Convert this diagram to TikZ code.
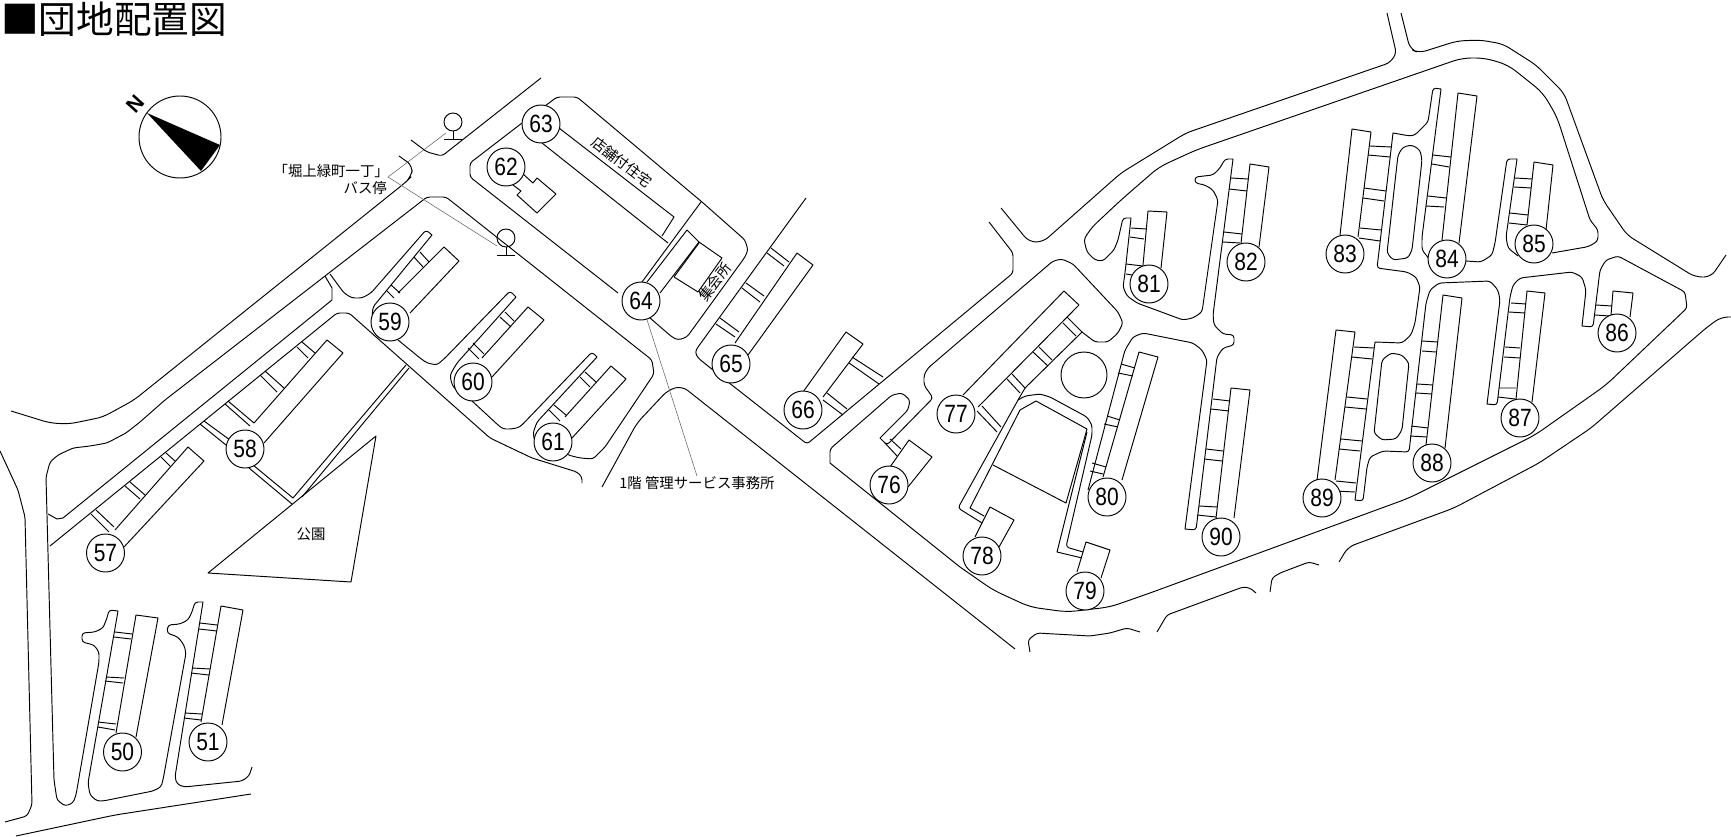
\documentclass[tikz,border=0pt]{standalone}
\usepackage{fontspec}
\setmainfont{Noto Sans CJK JP}
\newfontfamily\numf[FakeStretch=0.84]{Liberation Sans}
\newfontfamily\nbold{Liberation Sans Bold}
\tikzset{
  ln/.style={line width=0.95pt,line join=round},
  rc/.style={ln,rounded corners=3pt},
  rb/.style={ln,rounded corners=7pt},
  num/.style={circle,draw,fill=white,line width=0.95pt,minimum size=38pt,inner sep=0pt,font=\numf\fontsize{25}{25}\selectfont},
  lbl/.style={inner sep=0pt,font=\fontsize{14.4}{14.4}\selectfont},
  leader/.style={line width=0.5pt,draw=black!65},
  stopc/.style={circle,draw,line width=0.95pt,minimum size=18pt,inner sep=0pt}
}
\begin{document}
\begin{tikzpicture}[x=1pt,y=-1pt]
\useasboundingbox (0,0) rectangle (1731,837);
% title
\node[anchor=west,inner sep=0pt,font=\fontsize{37.6}{37.6}\selectfont] (title) at (1,19) {■団地配置図};
% compass
\fill (147,113)--(220,145)--(201,171)--cycle;
\node[circle,draw,line width=0.95pt,minimum size=82pt,inner sep=0pt] (comp) at (180,137) {};
\node[inner sep=0pt,rotate=48,font=\nbold\fontsize{21}{21}\selectfont] (north) at (135,104) {N};
% left-hand roads
\draw[rc] (553,442)--(568,455)--(580,458)--(593,459)--(605,447)--(654,374)--(652,360)--(446,197)--(427,197)--(165,400)--(140,422)--(126,433)--(107,443)--(90,446)--(73,448)--(58,455)--(50,462)--(46,477)--(54,780)--(57,800)--(65,806)--(73,803)--(76,795)--(99,662)--(99,652)--(94,645)--(82,642)--(82,633)--(95,632)--(103,628)--(107,618)--(109,610)[sharp corners]--(118,611)[rounded corners=3pt]--(88,783)--(90,795)--(97,801)--(103,801)--(153,791)--(161,787)--(163,780)--(186,653)--(184,645)--(178,637)--(167,633)--(168,625)--(180,624)--(188,620)--(192,612)--(195,602)[sharp corners]--(203,602)[rounded corners=3pt]--(175,777)--(177,784)--(184,787)--(242,781)--(249,776)--(252,767);
\draw[rb] (399,156)--(413,166)--(411,177)--(406,182)--(134,400)--(103,417)--(69,424)--(50,423)--(11,411);
\draw[rc] (541,78)--(442,156)--(427,152)--(411,140);
\draw[ln] (325,276)--(332,288)--(332,300)--(63,518)--(57,519)--(48,514);
\draw[rc] (50,546)--(337,313)--(349,313)--(490,438)--(532,458)--(577,472)--(582,477)--(582,483);
\draw[rc] (0,451)--(18,490)--(25,517)--(32,805)--(27,816)--(5,822);
\draw[rb] (16,836)--(115,815)--(251,794);
% 59, 60, 61 strips
\draw[rc] (330,274)--(344,293)--(352,298)--(362,298)--(371,293)--(426,230)[sharp corners]--(432,235)[rounded corners=3pt]--(373,307)--(372,316)--(376,325);
\draw[rc] (398,340)--(420,358)--(427,363)--(437,365)--(445,358)--(510,291)[sharp corners]--(516,297)[rounded corners=3pt]--(457,363)--(450,375)--(452,385)--(458,392);
\draw[rc] (458,388)--(498,425)--(503,429)--(512,429)--(520,427)--(592,352)[sharp corners]--(597,357)[rounded corners=3pt]--(537,422)--(533,433)--(535,442);
\draw[ln] (398,293)--(444,247)--(459,261)--(410,313);
\draw[ln] (482,358)--(528,307)--(544,320)--(492,377);
\draw[ln] (565,417)--(611,366)--(626,379)--(572,438);
\draw[ln] (414,257)--(423,267) (420,252)--(429,262) (386,290)--(394,298) (391,285)--(400,293);
\draw[ln] (500,317)--(511,327) (505,312)--(514,321) (468,348)--(479,359) (473,343)--(484,354);
\draw[ln] (580,377)--(590,387) (585,372)--(596,382) (549,410)--(560,421) (554,405)--(566,415);
% 57, 58 and park
\draw[ln] (254,423)--(327,340)--(343,353)--(264,443);
\draw[ln] (115,530)--(188,447)--(204,461)--(124,547);
\draw[ln] (297,347)--(308,358) (302,342)--(315,353) (260,375)--(277,392) (265,371)--(284,388) (225,404)--(250,426) (228,401)--(254,423) (200,424)--(226,445) (204,421)--(230,440);
\draw[ln] (161,457)--(170,466) (166,453)--(175,461) (125,486)--(140,499) (130,482)--(145,495) (91,514)--(109,532) (96,510)--(114,527);
\draw[ln] (249,468)--(292,504) (253,465)--(293,498)--(406,365) (302,497)--(409,368);
\draw[ln] (376,436)--(351,582)--(208,573)--cycle;
% 50, 51
\draw[ln] (116,733)--(136,615)--(158,618)--(136,737);
\draw[ln] (201,722)--(221,606)--(243,610)--(222,725);
\draw[ln] (115,632)--(132,634) (114,637)--(131,639) (106,677)--(124,678) (105,681)--(123,683) (98,722)--(116,724) (98,727)--(115,730);
\draw[ln] (200,623)--(217,625) (199,629)--(217,631) (192,668)--(210,669) (191,673)--(209,675) (185,713)--(202,714) (184,718)--(201,720);
% 62, 63, 64
\draw[rc] (522,123)--(470,163)--(470,177)--(618,293);
\draw[rc] (545,106)--(557,97)--(577,97)--(702,202)--(745,240)--(748,250)--(745,257)--(687,337)--(678,340)--(672,337)--(650,318);
\draw[ln] (523,174)--(533,183)--(537,178)--(556,194)--(537,213)--(517,195)--(521,191)--(513,185);
\draw[ln] (559,128)--(674,217)--(662,236);
\draw[ln] (542,143)--(668,243);
\draw[ln] (701,202)--(642,282);
\draw[ln] (647,282)--(687,230)--(699,242)--(660,293);
\draw[ln] (699,242)--(722,258)--(698,292)--(674,277);
\draw[ln] (699,243)--(674,277);
% 65, 66
\draw[rc] (806,198)--(698,347)--(695,352)--(698,358)--(728,382)--(807,444)--(1013,273)--(1013,253)--(989,222);
\draw[ln] (735,343)--(797,253)--(813,265)--(748,355);
\draw[ln] (767,253)--(784,266) (771,248)--(789,262) (742,288)--(760,302) (746,283)--(764,296) (716,324)--(735,337) (720,318)--(739,332);
\draw[ln] (803,392)--(846,332)--(863,344)--(823,397);
\draw[ln] (852,357)--(883,377) (849,363)--(879,384) (827,393)--(847,409) (823,400)--(843,415);
\draw[rb] (1015,649)--(682,386)--(668,390)--(637,423)--(602,487);
% main loop
\draw[rc] (1082,332)--(1095,342)--(1108,342)--(1118,333)--(1123,323)--(1118,312)--(1073,264)--(1062,259)--(1053,261)--(928,368)--(924,375)--(924,385)--(933,398)--(887,445)[sharp corners]--(880,438)[rounded corners=3pt]--(908,410)--(910,400)--(902,393)--(892,395)--(830,449)[sharp corners]--(830,463)--(960,567)[rounded corners=9pt]--(993,590)--(1030,607)--(1067,612)--(1110,607)--(1150,593)--(1409,498)--(1535,435)--(1606,385)[rounded corners=3pt]--(1687,308)--(1685,292)--(1618,256)--(1606,260)--(1600,270)--(1593,327)[sharp corners]--(1582,326)[rounded corners=3pt]--(1586,290)--(1582,277)--(1572,272)--(1520,278)--(1513,285)--(1510,297)--(1497,405)[sharp corners]--(1487,404)[rounded corners=3pt]--(1500,300)--(1498,290)--(1490,281)--(1439,283)--(1430,290)--(1426,303)--(1409,452)--(1383,451)--(1370,457)--(1367,467)--(1363,501)[sharp corners]--(1355,500)--(1375,342)[rounded corners=3pt]--(1402,343)--(1411,335)--(1415,323)--(1420,287)--(1416,277)--(1407,272)--(1377,268)[sharp corners]--(1393,133)[rounded corners=3pt]--(1410,136)--(1415,135)--(1428,122)--(1433,88)[sharp corners]--(1441,89)[rounded corners=3pt]--(1422,237)--(1422,250)--(1430,260);
\draw[rc] (1466,261)--(1481,262)--(1492,255)--(1495,243)--(1507,159)[sharp corners]--(1517,159)[rounded corners=3pt]--(1506,237)--(1508,248)--(1518,256);
\draw[rb] (1552,253)--(1592,246)[rounded corners=3pt]--(1598,240)--(1598,230)--(1590,220)[rounded corners=9pt]--(1557,117)--(1543,93)--(1527,80)--(1508,65)--(1485,58)--(1462,58)--(1196,150)--(1159,167)--(1121,200)--(1089,230)[rounded corners=3pt]--(1084,240)--(1087,252)--(1095,260)--(1103,261)--(1114,250)--(1118,240)--(1123,218)[sharp corners]--(1131,218)[rounded corners=3pt]--(1125,273)--(1123,287)--(1127,296)--(1137,303)--(1183,320)--(1193,318)--(1202,312)--(1218,200)--(1213,190)--(1205,185)--(1195,183)--(1195,177)--(1213,175)--(1220,168)--(1225,159)[sharp corners]--(1233,159)[rounded corners=3pt]--(1213,315)--(1214,325)--(1223,334)--(1234,335)--(1234,345)--(1223,348)--(1217,357)--(1196,530)[sharp corners]--(1185,529)[rounded corners=3pt]--(1207,360)--(1202,350)--(1193,343)--(1143,333)--(1133,337)--(1125,350)--(1088,490);
\draw[rb] (1001,208)--(1029,242)--(1043,242)--(1121,173)--(1186,133)--(1392,62)[rounded corners=3pt]--(1396,52)--(1387,13);
\draw[rb] (1401,13)--(1410,49)--(1419,53)--(1457,41)--(1480,40)--(1503,44)--(1536,65)--(1564,93)--(1603,200)--(1627,235)--(1695,277)--(1711,277)--(1726,255);
\draw[rb] (1731,317)--(1721,317)--(1706,328)--(1591,428)--(1539,463)--(1454,508)--(1348,547)--(1339,562);
\draw[rc] (1270,592)--(1272,578)--(1280,573)--(1309,562)--(1319,565);
\draw[rc] (1157,632)--(1167,615)--(1243,587)--(1250,588)--(1256,593);
\draw[rc] (1030,652)--(1028,640)--(1037,633)--(1090,636)--(1110,633)--(1127,628)--(1140,632);
% 76, 77
\draw[ln] (963,395)--(1064,291)--(1079,305)--(978,407);
\draw[ln] (1063,323)--(1076,336) (1067,317)--(1082,332) (1033,352)--(1048,366) (1039,347)--(1052,360) (1007,379)--(1020,393) (1012,374)--(1025,388) (977,411)--(997,432) (982,406)--(1001,427);
\draw[rc] (1082,332)--(1025,388)--(1018,400)--(958,508)--(982,523);
\draw[ln] (890,467)--(909,440)--(932,457)--(908,487);
\draw[ln] (885,443)--(897,456) (890,439)--(901,449);
% plaza, 78, 79
\draw[ln] (1020,410)--(1036,401)--(1087,429)--(1066,503)--(993,465);
\draw[ln] (1020,410)--(970,508)--(984,516);
\draw[rc] (1018,400)--(1025,396)--(1040,394)--(1050,397)--(1087,417)--(1092,425)--(1092,435)--(1066,547)--(1083,552);
\draw[ln] (1087,432)--(1057,552)--(1082,558);
\draw[ln] (975,537)--(990,507)--(1014,520)--(999,547);
\draw[ln] (1077,572)--(1086,542)--(1110,550)--(1101,578);
\draw[ln] (1084,375) circle[radius=23];
% 80
\draw[ln] (1103,477)--(1139,352)--(1158,357)--(1122,480);
\draw[ln] (1121,364)--(1135,368) (1118,373)--(1133,376) (1107,416)--(1120,420) (1104,424)--(1118,427) (1092,463)--(1106,467) (1090,471)--(1103,474);
% 81, 82
\draw[ln] (1143,265)--(1148,211)--(1167,212)--(1161,268);
\draw[ln] (1131,228)--(1146,229) (1130,237)--(1144,239) (1126,264)--(1143,266) (1126,274)--(1132,275);
\draw[ln] (1241,243)--(1250,164)--(1269,167)--(1259,247);
\draw[ln] (1231,178)--(1248,179) (1229,189)--(1247,191) (1224,232)--(1242,234) (1223,242)--(1240,243);
% 90
\draw[ln] (1216,518)--(1231,388)--(1250,390)--(1234,518);
\draw[ln] (1213,399)--(1230,401) (1211,409)--(1229,411) (1206,449)--(1223,451) (1204,459)--(1222,461) (1199,506)--(1217,507) (1197,515)--(1216,517);
% 83, 84, 85
\draw[ln] (1340,235)--(1352,129)--(1371,132)--(1358,237);
\draw[ln] (1370,146)--(1391,147) (1368,155)--(1390,157) (1364,188)--(1386,191) (1363,198)--(1384,201) (1360,228)--(1381,230) (1359,238)--(1380,241);
\draw[rc] (1398,155)--(1403,147)--(1412,145)--(1420,150)--(1422,160)--(1412,250)--(1408,258)--(1393,260)--(1387,253)--cycle;
\draw[ln] (1442,240)--(1458,93)--(1477,96)--(1459,243);
\draw[ln] (1433,155)--(1451,157) (1432,164)--(1449,167) (1428,196)--(1446,198) (1426,206)--(1444,207);
\draw[ln] (1527,225)--(1534,162)--(1553,165)--(1546,230);
\draw[ln] (1515,178)--(1532,179) (1514,187)--(1531,188) (1510,213)--(1528,215) (1509,223)--(1527,225);
% 86, 87, 88, 89
\draw[ln] (1611,315)--(1613,291)--(1633,293)--(1630,317);
\draw[ln] (1596,305)--(1612,306) (1595,315)--(1610,316);
\draw[ln] (1516,399)--(1527,291)--(1545,293)--(1532,402);
\draw[ln] (1511,303)--(1526,304) (1509,312)--(1525,313) (1505,347)--(1520,348) (1504,357)--(1520,358) (1499,388)--(1516,388) (1498,397)--(1515,399);
\draw[ln] (1426,445)--(1443,295)--(1462,298)--(1445,448);
\draw[ln] (1422,341)--(1438,342) (1422,351)--(1436,352) (1417,384)--(1433,385) (1416,393)--(1432,394) (1411,426)--(1428,428) (1410,436)--(1427,437);
\draw[ln] (1317,480)--(1336,330)--(1355,332)--(1335,480);
\draw[ln] (1354,347)--(1374,348) (1352,357)--(1372,359) (1347,397)--(1367,399) (1345,407)--(1366,409) (1341,439)--(1362,441) (1339,449)--(1360,451) (1336,481)--(1356,483) (1335,491)--(1355,492);
\draw[rc] (1382,360)--(1391,353)--(1402,355)--(1409,363)--(1402,430)--(1396,439)--(1382,440)--(1374,433)--cycle;
% bus stops
\node[stopc] (stopa) at (453,122) {};
\node[stopc] (stopb) at (506,238) {};
\draw[ln] (stopa.south)--(453,139) (444,139)--(462,139);
\draw[ln] (stopb.south)--(506,255) (497,255)--(515,255);
% labels
\node[lbl,rotate=-38] (shop) at (622,162) {店舗付住宅};
\node[lbl,rotate=52] (hall) at (715,282) {集会所};
\node[lbl] (park) at (311,534) {公園};
\node[lbl] (mgmt) at (697,483) {1階 管理サービス事務所};
\node[lbl,anchor=east] (busa) at (389,171) {「堀上緑町一丁」};
\node[lbl,anchor=east] (busb) at (387,188) {バス停};
\coordinate (busl) at (388,177);
\coordinate (stopal) at (446,133);
\coordinate (stopbl) at (497,246);
\draw[leader] (stopal)--(busl)--(stopbl);
% numbers
\foreach \n/\px/\py in {50/122.5/752,51/208/742,57/105.5/553,58/245/449,59/390/322,60/473/382,61/553/442,62/506/167,63/541/124,64/641/301,65/731/364,66/803/410,76/889/485,77/956/414,78/982/556,79/1085/591,80/1107/497,81/1149/284,82/1246/262,83/1345/254,84/1447/259,85/1534/244,86/1617/333,87/1520/418,88/1432/463,89/1322/498,90/1221/537}{
  \node[num] (n\n) at (\px,\py) {\n};
}
\draw[leader] (n64)--(mgmt.north);
\end{tikzpicture}
\end{document}
